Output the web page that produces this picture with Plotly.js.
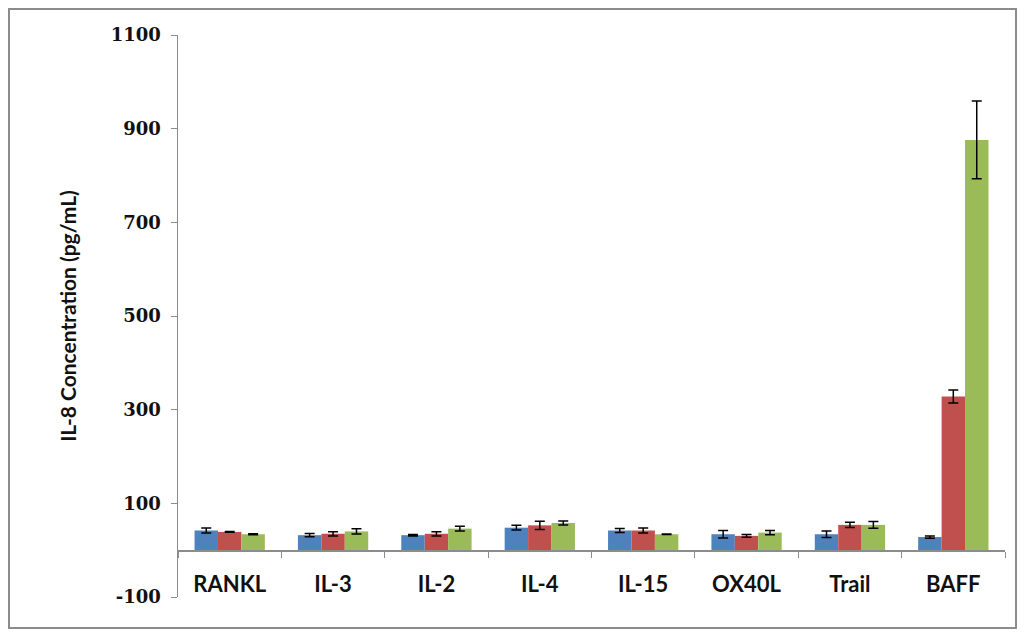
<!DOCTYPE html>
<html>
<head>
<meta charset="utf-8">
<script src="https://cdn.plot.ly/plotly-3.0.1.min.js"></script>
<style>
html,body{margin:0;padding:0;background:#fff;}
#wrap{position:relative;width:1024px;height:636px;}
#chart{width:1024px;height:636px;}
#frame{position:absolute;left:8px;top:8px;width:1005px;height:617px;border:2px solid #8c8c8c;pointer-events:none;}
</style>
</head>
<body>
<div id="wrap"><div id="chart"></div><div id="frame"></div></div>
<script>
var categories = ["RANKL","IL-3","IL-2","IL-4","IL-15","OX40L","Trail","BAFF"];
var blueVals  = [42, 32, 32, 48, 42, 34, 34, 28];
var blueErr   = [5.5, 3.5, 1.5, 5, 4.5, 8, 7, 2.5];
var redVals   = [39, 35, 35, 53, 42, 30.5, 54, 328];
var redErr    = [1, 4.5, 4.5, 9, 5.5, 3, 5.5, 14];
var greenVals = [34, 40, 46, 58, 34, 37.5, 54, 876];
var greenErr  = [1, 5.5, 5, 4.5, 0.5, 4.5, 7, 83];
var yTicks = [-100, 100, 300, 500, 700, 900, 1100];

function series(vals, errs, color){
  return {
    type:'bar', x:categories, y:vals,
    marker:{color:color, line:{width:0}},
    error_y:{type:'data', array:errs, visible:true, color:'#000', thickness:1.5, width:5},
    showlegend:false, hoverinfo:'none'
  };
}
var data = [
  series(blueVals, blueErr, '#4F81BD'),
  series(redVals, redErr, '#C0504D'),
  series(greenVals, greenErr, '#9BBB59')
];
var layout = {
  width:1024, height:636,
  margin:{l:178, r:19, t:35, b:39},
  paper_bgcolor:'#fff', plot_bgcolor:'#fff',
  barmode:'group', bargap:0.32, bargroupgap:0,
  xaxis:{
    anchor:'free', position:100/1200,
    showline:true, linecolor:'#8c8c8c', linewidth:1.5,
    ticks:'outside', tickson:'boundaries', ticklen:6, tickcolor:'#8c8c8c', tickwidth:1,
    showgrid:false, zeroline:false,
    tickfont:{family:'Lato, "Liberation Sans", sans-serif', size:22, color:'#111', weight:'bold'},
    ticklabelstandoff:14
  },
  yaxis:{
    range:[-100,1100], tickvals:yTicks, ticktext:yTicks.map(String),
    showline:true, linecolor:'#8c8c8c', linewidth:1.5,
    ticks:'outside', ticklen:6, tickcolor:'#8c8c8c',
    showgrid:false, zeroline:false,
    tickfont:{family:'"DejaVu Serif", "Liberation Serif", serif', size:18, color:'#111', weight:'bold'},
    ticklabelstandoff:6,
    title:{text:'IL-8 Concentration (pg/mL)', font:{family:'Lato, "Liberation Sans", sans-serif', size:21, color:'#111', weight:'bold'}, standoff:28}
  }
};
Plotly.newPlot('chart', data, layout, {displayModeBar:false, staticPlot:true});
</script>
</body>
</html>
